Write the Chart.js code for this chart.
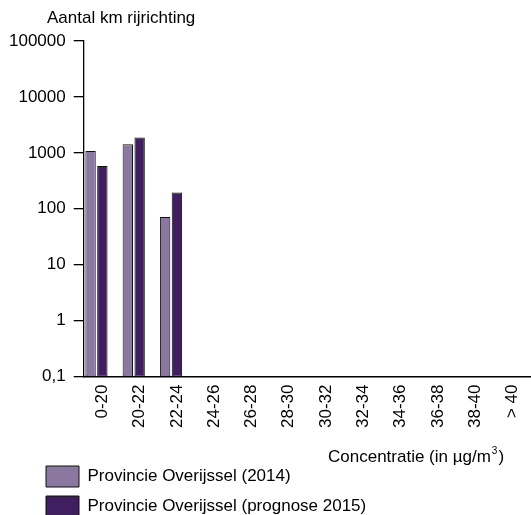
<!DOCTYPE html>
<html lang="nl">
<head>
  <meta charset="UTF-8">
  <title>Aantal km rijrichting per concentratieklasse</title>
  <script src="https://cdn.jsdelivr.net/npm/chart.js"></script>
  <style>
    body { margin: 0; background: #fff; }
    #wrap { width: 531px; height: 515px; }
  </style>
</head>
<body>
  <div id="wrap"><canvas id="chart" width="531" height="515"></canvas></div>
  <script>
    // Data
    const categories = ['0-20', '20-22', '22-24', '24-26', '26-28', '28-30', '30-32', '32-34', '34-36', '36-38', '38-40', '> 40'];
    const overijssel2014 = [1080, 1430, 71, 0, 0, 0, 0, 0, 0, 0, 0, 0];
    const overijssel2015 = [580, 1880, 195, 0, 0, 0, 0, 0, 0, 0, 0, 0];
    // third (empty) series slot, the original keeps one so bars sit left in each class
    const emptySeries = [null, null, null, null, null, null, null, null, null, null, null, null];
    const seriesLabels = ['Provincie Overijssel (2014)', 'Provincie Overijssel (prognose 2015)'];
    const yTickValues = [0.1, 1, 10, 100, 1000, 10000, 100000];
    const yTickLabels = ['0,1', '1', '10', '100', '1000', '10000', '100000'];

    const FONT = '"Liberation Sans", Arial, sans-serif';
    Chart.defaults.font.family = FONT;
    Chart.defaults.font.size = 17;
    Chart.defaults.color = '#000';

    // move title and legend to where the original has them, and draw the x axis title
    const nudge = {
      id: 'nudge',
      afterLayout(chart) {
        const t = chart.titleBlock;
        t.left += 46; t.right += 46;
        const l = chart.legend;
        l.left += 36; l.right += 36;
        l.top += 21; l.bottom += 21;
      },
      afterDraw(chart) {
        const ctx = chart.ctx;
        ctx.save();
        ctx.fillStyle = '#000';
        ctx.textBaseline = 'middle';
        let x = 328;
        const y = 457;
        const part = 'Concentratie (in µg/m';
        ctx.font = '17px ' + FONT;
        ctx.fillText(part, x, y);
        x += ctx.measureText(part).width;
        ctx.font = '10px ' + FONT;
        ctx.fillText('3', x + 1, y - 6);
        x += ctx.measureText('3').width + 2;
        ctx.font = '17px ' + FONT;
        ctx.fillText(')', x, y);
        ctx.restore();
      }
    };

    new Chart(document.getElementById('chart'), {
      type: 'bar',
      data: {
        labels: categories,
        datasets: [
          {
            label: seriesLabels[0],
            data: overijssel2014,
            backgroundColor: '#8b78a0',
            borderColor: '#111',
            borderWidth: 1,
            borderSkipped: false
          },
          {
            label: seriesLabels[1],
            data: overijssel2015,
            backgroundColor: '#3f1f5f',
            borderColor: '#111',
            borderWidth: 1,
            borderSkipped: false
          },
          {
            label: '',
            data: emptySeries,
            backgroundColor: 'transparent',
            borderWidth: 0
          }
        ]
      },
      options: {
        responsive: false,
        animation: false,
        datasets: { bar: { barPercentage: 0.88, categoryPercentage: 0.95 } },
        layout: { padding: { left: 1, right: -8, top: 0, bottom: 9 } },
        plugins: {
          title: {
            display: true,
            text: 'Aantal km rijrichting',
            align: 'start',
            color: '#000',
            font: { size: 17, weight: 'normal' },
            padding: { top: 8, bottom: 12.6 }
          },
          legend: {
            position: 'bottom',
            align: 'start',
            labels: {
              boxWidth: 33,
              boxHeight: 21,
              padding: 9,
              color: '#000',
              font: { size: 17 },
              filter: item => item.datasetIndex < 2
            }
          },
          tooltip: { enabled: false }
        },
        scales: {
          x: {
            grid: { display: false, drawTicks: false },
            border: { color: '#000', width: 1.5 },
            ticks: { color: '#000', minRotation: 90, maxRotation: 90, autoSkip: false, padding: 8 },
            // the plot runs on past the right edge of the picture, as in the original
            afterFit: scale => { scale.paddingLeft = 0; scale.paddingRight = -8; }
          },
          y: {
            type: 'logarithmic',
            min: 0.1,
            max: 100000,
            grid: { drawOnChartArea: false, tickLength: 10, color: '#000', lineWidth: 1.3 },
            border: { color: '#000', width: 1.3 },
            afterBuildTicks: scale => { scale.ticks = yTickValues.map(v => ({ value: v })); },
            ticks: {
              color: '#000',
              padding: 8,
              callback: v => yTickLabels[yTickValues.indexOf(v)]
            }
          }
        }
      },
      plugins: [nudge]
    });
  </script>
</body>
</html>
